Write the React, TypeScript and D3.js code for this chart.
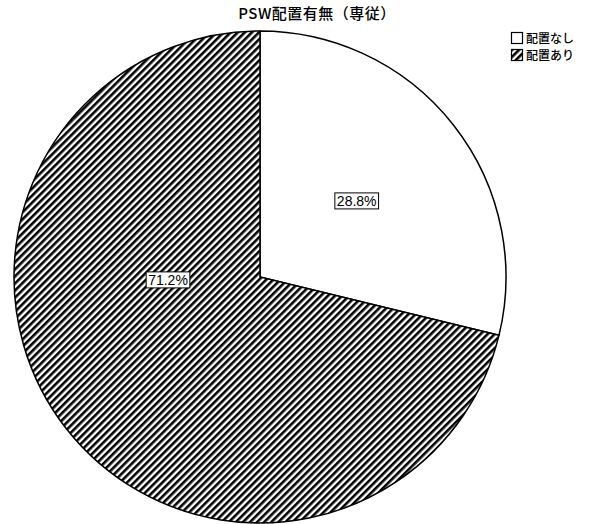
import { useEffect, useRef } from "react";
import * as d3 from "d3";

const categories = ["配置なし", "配置あり"];
const values = [28.8, 71.2];
const labels = ["28.8%", "71.2%"];
const title = "PSW配置有無（専従）";

function App() {
  const svgRef = useRef<SVGSVGElement | null>(null);

  useEffect(() => {
    const svg: any = d3.select(svgRef.current);
    svg.selectAll("*").remove();
    const width = 592;
    const height = 524;
    const cx = 260;
    const cy = 277;
    const radius = 246;

    const defs = svg.append("defs");
    const pat = defs
      .append("pattern")
      .attr("id", "hatch")
      .attr("patternUnits", "userSpaceOnUse")
      .attr("width", 5)
      .attr("height", 5)
      .attr("patternTransform", "rotate(45)");
    pat.append("rect").attr("width", 5).attr("height", 5).attr("fill", "#fff");
    pat
      .append("rect")
      .attr("x", 0)
      .attr("y", 0)
      .attr("width", 2.6)
      .attr("height", 5)
      .attr("fill", "#000");

    const fills = ["#ffffff", "url(#hatch)"];

    svg
      .append("rect")
      .attr("width", width)
      .attr("height", height)
      .attr("fill", "#fff");

    svg
      .append("text")
      .attr("x", 317)
      .attr("y", 19)
      .attr("text-anchor", "middle")
      .style("font-family", "'Noto Sans CJK JP', 'Liberation Sans', sans-serif")
      .style("font-size", "15px")
      .style("font-weight", "500")
      .style("letter-spacing", "0.5px")
      .attr("fill", "#000")
      .text(title);

    const pieGenerator: any = d3.pie<number>().sort(null).value((d: number) => d);
    const arcGenerator: any = d3.arc().innerRadius(0).outerRadius(radius);
    const arcs = pieGenerator(values);

    const g = svg.append("g").attr("transform", `translate(${cx}, ${cy})`);

    g.selectAll("path")
      .data(arcs)
      .enter()
      .append("path")
      .attr("d", arcGenerator)
      .attr("fill", (_: any, i: number) => fills[i])
      .attr("stroke", "#000")
      .attr("stroke-width", 1.5);

    // label positions (relative to the pie's own layout in the original)
    const labelArc: any = d3.arc().innerRadius(radius * 0.5).outerRadius(radius * 0.5);
    const labelPos = arcs.map((d: any, i: number) => {
      if (i === 0) return labelArc.centroid(d);
      return [-92, 3];
    });

    arcs.forEach((_: any, i: number) => {
      const [x, y] = labelPos[i];
      const lg = g.append("g").attr("transform", `translate(${x}, ${y})`);
      const t = lg
        .append("text")
        .attr("text-anchor", "middle")
        .attr("dy", "0.35em")
        .style("font-family", "'Liberation Sans', Arial, sans-serif")
        .style("font-size", "14px")
        .attr("fill", "#000")
        .text(labels[i]);
      const bb = t.node().getBBox();
      lg.insert("rect", "text")
        .attr("x", bb.x - 2)
        .attr("y", bb.y)
        .attr("width", bb.width + 4)
        .attr("height", bb.height)
        .attr("fill", "#fff")
        .attr("stroke", "#000")
        .attr("stroke-width", 1);
    });

    const legend = svg.append("g").attr("transform", "translate(511, 32)");
    categories.forEach((c, i) => {
      const row = legend.append("g").attr("transform", `translate(0, ${i * 17})`);
      row
        .append("rect")
        .attr("x", 0.5)
        .attr("y", 0.5)
        .attr("width", 11)
        .attr("height", 11)
        .attr("fill", fills[i])
        .attr("stroke", "#000")
        .attr("stroke-width", 1.2);
      row
        .append("text")
        .attr("x", 15)
        .attr("y", 11)
        .style("font-family", "'Noto Sans CJK JP', sans-serif")
        .style("font-size", "12px")
        .style("font-weight", "500")
        .attr("fill", "#000")
        .text(c);
    });
  }, []);

  return (
    <svg
      ref={svgRef}
      width={592}
      height={524}
      style={{ position: "absolute", left: 0, top: 0 }}
    ></svg>
  );
}

export default App;
